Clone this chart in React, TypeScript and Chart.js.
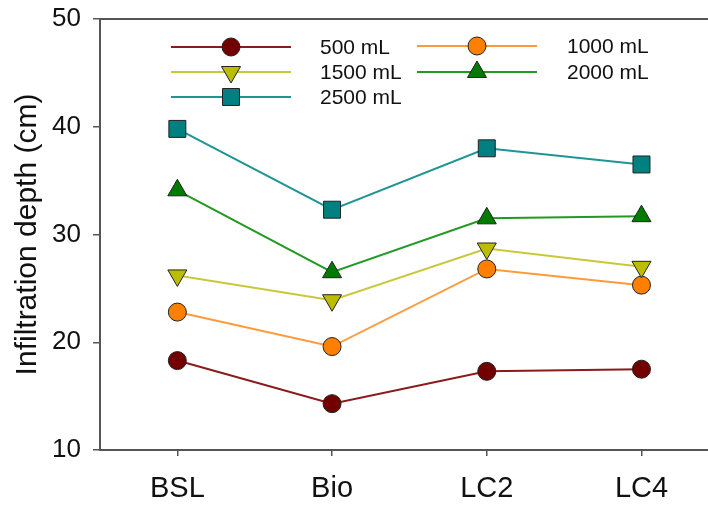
import React, { useEffect, useRef } from "react";
import { Chart, registerables } from "chart.js";

Chart.register(...registerables);

const categories = ["BSL", "Bio", "LC2", "LC4"];
const seriesLabels = ["500 mL", "1000 mL", "1500 mL", "2000 mL", "2500 mL"];
const v500 = [18.3, 14.3, 17.3, 17.5];
const v1000 = [22.8, 19.6, 26.8, 25.3];
const v1500 = [26.2, 23.9, 28.7, 27.0];
const v2000 = [34.1, 26.5, 31.5, 31.7];
const v2500 = [39.8, 32.3, 38.0, 36.5];
const yTicks = [10, 20, 30, 40, 50];
const yTitle = "Infiltration depth (cm)";

const FONT = "'Liberation Sans', Arial, sans-serif";
const AXIS = "#555555";

const styles = [
  { line: "#8b1a1a", fill: "#730000", point: "circle", radius: 9, rot: 0 },
  { line: "#ff9a3c", fill: "#ff8000", point: "circle", radius: 9, rot: 0 },
  { line: "#c8c83a", fill: "#bdbd00", point: "triangle", radius: 11, rot: 180 },
  { line: "#229a22", fill: "#007a00", point: "triangle", radius: 11, rot: 0 },
  { line: "#1f9494", fill: "#008080", point: "rect", radius: 12, rot: 0 },
];
const seriesValues = [v500, v1000, v1500, v2000, v2500];

// legend layout: [lineStart, markerX, lineEnd, textX, y]
const legendPos = [
  [171, 231, 291, 320, 47],
  [417, 477, 537, 567, 46],
  [171, 231, 291, 320, 72],
  [417, 477, 537, 567, 72],
  [171, 231, 291, 320, 97],
];

function drawMarker(ctx: CanvasRenderingContext2D, style: string, x: number, y: number, r: number, rot: number, fill: string, stroke: string) {
  ctx.save();
  ctx.beginPath();
  if (style === "circle") {
    ctx.arc(x, y, r, 0, Math.PI * 2);
  } else if (style === "rect") {
    const s = r * Math.SQRT1_2;
    ctx.rect(x - s, y - s, 2 * s, 2 * s);
  } else {
    let a = (rot * Math.PI) / 180;
    for (let k = 0; k < 3; k++) {
      const px = x + Math.sin(a) * r;
      const py = y - Math.cos(a) * r;
      if (k === 0) ctx.moveTo(px, py);
      else ctx.lineTo(px, py);
      a += (2 * Math.PI) / 3;
    }
    ctx.closePath();
  }
  ctx.fillStyle = fill;
  ctx.fill();
  ctx.lineWidth = 1;
  ctx.strokeStyle = stroke;
  ctx.stroke();
  ctx.restore();
}

const framePlugin = {
  id: "frameAndLegend",
  afterDraw(chart: any) {
    const { ctx, chartArea } = chart;
    ctx.save();
    ctx.strokeStyle = AXIS;
    ctx.lineWidth = 2;
    ctx.beginPath();
    ctx.moveTo(chartArea.left - 1, chartArea.top);
    ctx.lineTo(chartArea.right, chartArea.top);
    ctx.stroke();

    ctx.font = `21px ${FONT}`;
    ctx.textBaseline = "middle";
    ctx.textAlign = "left";
    seriesLabels.forEach((label, i) => {
      const st = styles[i];
      const [x0, xm, x1, xt, y] = legendPos[i];
      ctx.strokeStyle = st.line;
      ctx.lineWidth = 2;
      ctx.beginPath();
      ctx.moveTo(x0, y);
      ctx.lineTo(x1, y);
      ctx.stroke();
      drawMarker(ctx, st.point, xm, y, st.radius, st.rot, st.fill, "#222222");
      ctx.fillStyle = "#111111";
      ctx.fillText(label, xt, y + 1);
    });
    ctx.restore();
  },
};

export default function App() {
  const ref = useRef<HTMLCanvasElement | null>(null);
  useEffect(() => {
    if (!ref.current) return;
    const chart = new Chart(ref.current, {
      type: "line",
      data: {
        datasets: seriesLabels.map((label, i) => ({
          label,
          data: seriesValues[i].map((y, j) => ({ x: j, y })),
          borderColor: styles[i].line,
          backgroundColor: styles[i].fill,
          borderWidth: 2,
          tension: 0,
          pointStyle: styles[i].point as any,
          pointRadius: styles[i].radius,
          pointRotation: styles[i].rot,
          pointBackgroundColor: styles[i].fill,
          pointBorderColor: "#222222",
          pointBorderWidth: 1,
          order: seriesLabels.length - i,
        })),
      },
      options: {
        animation: false,
        responsive: false,
        devicePixelRatio: 1,
        layout: { autoPadding: false, padding: { top: 19, left: 0, right: 0, bottom: 0 } },
        plugins: { legend: { display: false }, tooltip: { enabled: false } },
        scales: {
          x: {
            type: "linear",
            min: -0.5,
            max: 3.43,
            afterBuildTicks: (s: any) => {
              s.ticks = categories.map((_, i) => ({ value: i }));
            },
            afterFit: (s: any) => {
              s.height = 56;
              s.paddingLeft = 0;
              s.paddingRight = 0;
            },
            ticks: {
              callback: (v: any) => categories[v as number] ?? "",
              font: { family: FONT, size: 29 },
              color: "#111111",
              padding: 16,
              autoSkip: false,
              maxRotation: 0,
            },
            grid: { drawOnChartArea: false, drawTicks: true, tickLength: 6, color: AXIS, lineWidth: 1.5 },
            border: { display: true, color: AXIS, width: 2 },
          },
          y: {
            min: 10,
            max: 50,
            afterBuildTicks: (s: any) => {
              s.ticks = yTicks.map((v) => ({ value: v }));
            },
            afterFit: (s: any) => {
              s.width = 100;
              s.paddingTop = 0;
              s.paddingBottom = 0;
            },
            ticks: {
              font: { family: FONT, size: 26 },
              color: "#111111",
              padding: 12,
            },
            grid: { drawOnChartArea: false, drawTicks: true, tickLength: 7, color: AXIS, lineWidth: 1.5 },
            border: { display: true, color: AXIS, width: 2 },
            title: {
              display: true,
              text: yTitle,
              font: { family: FONT, size: 30 },
              color: "#111111",
              padding: 10,
            },
          },
        },
      },
      plugins: [framePlugin],
    });
    return () => chart.destroy();
  }, []);
  return (
    <div style={{ position: "absolute", left: 0, top: 0, width: 708, height: 506, background: "#ffffff" }}>
      <canvas ref={ref} width={708} height={506} style={{ display: "block" }} />
    </div>
  );
}
